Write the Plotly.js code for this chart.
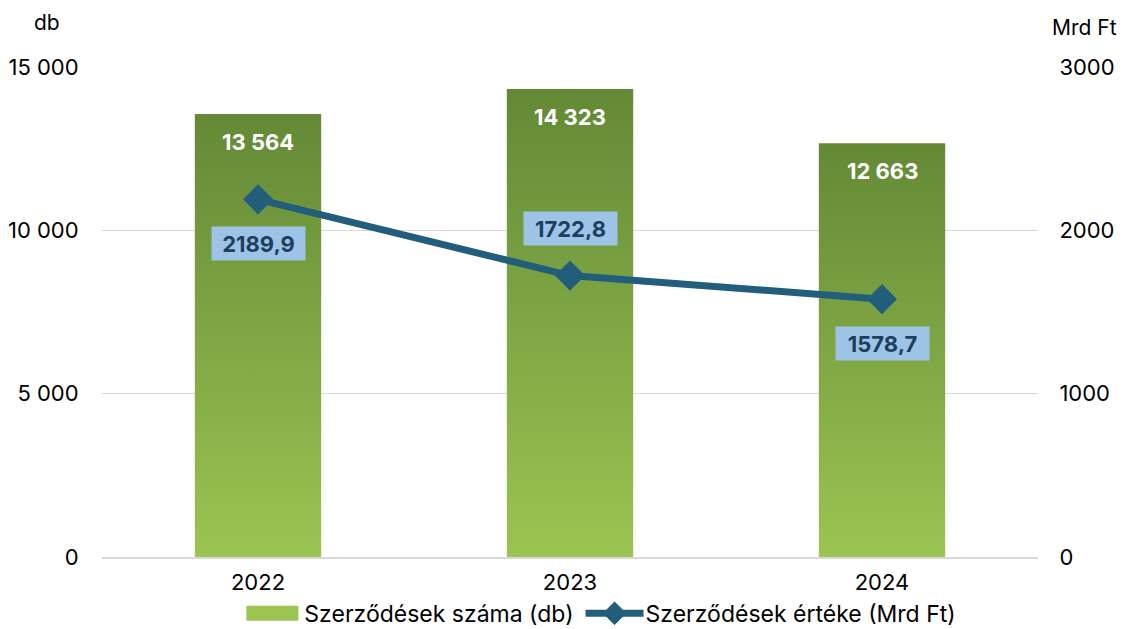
<!DOCTYPE html>
<html>
<head>
<meta charset="utf-8">
<script src="https://cdn.plot.ly/plotly-3.0.1.min.js"></script>
<style>html,body{margin:0;padding:0;background:#fff;}#chart{width:1124px;height:629px;}</style>
</head>
<body>
<div id="chart"></div>
<script>
const years = ['2022', '2023', '2024'];
const countValues = [13564, 14323, 12663];
const amountValues = [2189.9, 1722.8, 1578.7];
const countName = 'Szerződések száma (db)';
const amountName = 'Szerződések értéke (Mrd Ft)';
const amountLabelSide = ['below', 'above', 'below'];

const FONT = 'Inter, Roboto, "DejaVu Sans", sans-serif';
const FS = 22;
function fmtCount(v) { return String(v).replace(/\B(?=(\d{3})+(?!\d))/g, ' '); }
function fmtAmount(v) { return v.toFixed(1).replace('.', ','); }

const traces = [
  {
    type: 'bar', name: countName, x: years, y: countValues,
    marker: {color: '#86ad48'}, width: 0.405, hoverinfo: 'skip'
  },
  {
    type: 'scatter', mode: 'lines+markers', name: amountName, x: years, y: amountValues, yaxis: 'y2',
    line: {color: '#225e7c', width: 7},
    marker: {symbol: 'diamond', size: 21, color: '#225e7c', line: {color: '#225e7c', width: 2}},
    hoverinfo: 'skip'
  }
];

const annotations = [];
years.forEach((yr, i) => {
  annotations.push({
    x: i, y: countValues[i], xref: 'x', yref: 'y', showarrow: false,
    text: '<b>' + fmtCount(countValues[i]) + '</b>', yanchor: 'middle', yshift: -28,
    font: {family: FONT, size: FS, color: '#ffffff'}
  });
  annotations.push({
    x: i, y: amountValues[i], xref: 'x', yref: 'y2', showarrow: false,
    text: '<b>' + fmtAmount(amountValues[i]) + '</b>', yanchor: 'middle',
    yshift: amountLabelSide[i] === 'below' ? -44 : 47,
    bgcolor: '#9dc3e6', borderpad: 5, width: 83, height: 23,
    font: {family: FONT, size: FS, color: '#1d3f5e'}
  });
});
annotations.push({
  xref: 'paper', yref: 'paper', x: -0.0588, y: 1.0, yshift: 45, showarrow: false, text: 'db',
  xanchor: 'center', yanchor: 'middle', font: {family: FONT, size: 21, color: '#000'}
});
annotations.push({
  xref: 'paper', yref: 'paper', x: 1.0502, y: 1.0, yshift: 40, showarrow: false, text: 'Mrd Ft',
  xanchor: 'center', yanchor: 'middle', font: {family: FONT, size: 21, color: '#000'}
});

const layout = {
  width: 1124, height: 629,
  margin: {l: 102, r: 86, t: 67, b: 72, pad: 0},
  paper_bgcolor: '#fff', plot_bgcolor: '#fff',
  separators: ', ',
  font: {family: FONT, size: FS, color: '#000'},
  showlegend: true,
  legend: {
    orientation: 'h', x: 0.5, xanchor: 'center', xref: 'container',
    y: 0.025, yref: 'container', yanchor: 'middle',
    font: {family: FONT, size: 23, color: '#000'}, traceorder: 'normal'
  },
  xaxis: {
    type: 'category', range: [-0.5, 2.5], showgrid: false, zeroline: false,
    showline: true, linecolor: '#d9d9d9', linewidth: 2, ticks: 'outside', ticklen: 5, tickcolor: 'rgba(0,0,0,0)',
    tickfont: {family: FONT, size: FS, color: '#000'}, fixedrange: true
  },
  yaxis: {
    range: [0, 15000], tickvals: [0, 5000, 10000, 15000], separatethousands: true, exponentformat: 'none',
    showgrid: true, gridcolor: '#d9d9d9', gridwidth: 1.5, zeroline: false, showline: false,
    ticks: 'outside', ticklen: 18, tickcolor: 'rgba(0,0,0,0)',
    tickfont: {family: FONT, size: FS, color: '#000'}, fixedrange: true
  },
  yaxis2: {
    overlaying: 'y', side: 'right', range: [0, 3000], tickvals: [0, 1000, 2000, 3000], exponentformat: 'none',
    showgrid: false, zeroline: false, showline: false,
    ticks: 'outside', ticklen: 16, tickcolor: 'rgba(0,0,0,0)',
    tickfont: {family: FONT, size: FS, color: '#000'}, fixedrange: true
  },
  annotations: annotations
};

function parseT(el) {
  const t = el.getAttribute('transform') || '';
  const m = /translate\(\s*([-\d.e]+)[ ,]+([-\d.e]+)\s*\)/.exec(t);
  return m ? [parseFloat(m[1]), parseFloat(m[2])] : [0, 0];
}

function postProcess() {
  const svg = document.querySelector('#chart .main-svg');
  if (!svg) return;
  const ns = 'http://www.w3.org/2000/svg';
  let defs = svg.querySelector('defs');
  if (!defs) { defs = document.createElementNS(ns, 'defs'); svg.insertBefore(defs, svg.firstChild); }
  if (!document.getElementById('barGrad')) {
    const g = document.createElementNS(ns, 'linearGradient');
    g.setAttribute('id', 'barGrad');
    g.setAttribute('x1', '0'); g.setAttribute('y1', '0'); g.setAttribute('x2', '0'); g.setAttribute('y2', '1');
    const s1 = document.createElementNS(ns, 'stop'); s1.setAttribute('offset', '0'); s1.setAttribute('stop-color', '#638936');
    const s2 = document.createElementNS(ns, 'stop'); s2.setAttribute('offset', '1'); s2.setAttribute('stop-color', '#9bc452');
    g.appendChild(s1); g.appendChild(s2); defs.appendChild(g);
  }
  document.querySelectorAll('#chart .barlayer .point path').forEach(p => { p.style.fill = 'url(#barGrad)'; });

  // legend symbols styled like the reference (wide swatch, long line)
  try {
    const leg = document.querySelector('#chart .legend');
    const items = leg.querySelectorAll('.traces');
    if (items.length < 2) return;
    const barSym = items[0].querySelector('.legendbar, .legendpoints path');
    if (barSym) {
      barSym.setAttribute('d', 'M14,7.5H-38V-7.5H14Z');
      barSym.style.fill = '#9bc452';
      barSym.style.stroke = 'none';
    }
    const linePath = items[1].querySelector('.legendlines path');
    if (linePath) linePath.setAttribute('d', 'M-20,0H38');
    items[1].querySelectorAll('.legendpoints path').forEach(p => p.setAttribute('transform', 'translate(9,0)'));

    const w0 = items[0].querySelector('text.legendtext').getComputedTextLength();
    const w1 = items[1].querySelector('text.legendtext').getComputedTextLength();
    const left0 = -18, gap = 12;
    const x1 = 40 + w0 + gap + 20;
    const total = (x1 + 40 + w1) - left0;
    const startX = 601 - total / 2 - left0;
    const [, ly] = parseT(leg);
    leg.setAttribute('transform', 'translate(0,' + ly + ')');
    const sb = leg.querySelector('.scrollbox');
    if (sb) { sb.removeAttribute('clip-path'); sb.setAttribute('transform', 'translate(0,0)'); }
    const groups = leg.querySelector('.groups');
    if (groups) groups.setAttribute('transform', 'translate(0,0)');
    const bg = leg.querySelector('rect.bg');
    if (bg) bg.style.display = 'none';
    const [, y0] = parseT(items[0]);
    const [, y1] = parseT(items[1]);
    items[0].setAttribute('transform', 'translate(' + startX + ',' + y0 + ')');
    items[1].setAttribute('transform', 'translate(' + (startX + x1) + ',' + y1 + ')');
  } catch (e) { console.log(e); }
}

Plotly.newPlot('chart', traces, layout, {displayModeBar: false, staticPlot: true}).then(postProcess);
</script>
</body>
</html>
